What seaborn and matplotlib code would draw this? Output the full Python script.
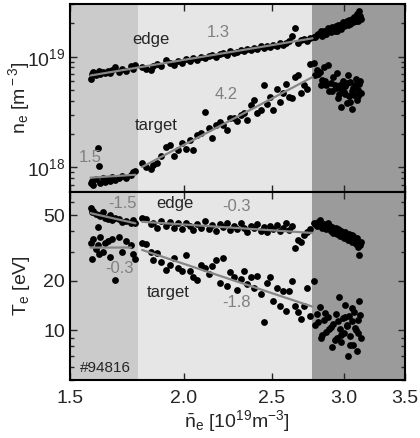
import numpy as np
import matplotlib
matplotlib.use('Agg')
import matplotlib.pyplot as plt
import matplotlib.ticker as mticker
import seaborn as sns

# line averaged density, 10^19 m^-3
nbar = np.array([
    1.58, 1.585, 1.59, 1.60, 1.61, 1.615, 1.62, 1.63, 1.64, 1.65, 1.66, 1.67, 1.68, 1.70, 1.71, 1.73, 1.75, 1.76, 1.77,
    1.80, 1.82, 1.84, 1.85, 1.87, 1.89, 1.91, 1.93, 1.95, 1.97, 1.99, 2.01, 2.03, 2.05, 2.07, 2.09, 2.11, 2.13, 2.15,
    2.17, 2.19, 2.21, 2.23, 2.25, 2.27, 2.29, 2.31, 2.33, 2.35, 2.37, 2.39, 2.41, 2.43, 2.45, 2.47, 2.49, 2.51, 2.53,
    2.55, 2.57, 2.59, 2.61, 2.63, 2.65, 2.67, 2.69, 2.71, 2.73, 2.75,
    2.78, 2.80, 2.82, 2.84, 2.85, 2.87, 2.88, 2.90, 2.91, 2.92, 2.94, 2.95, 2.96, 2.97, 2.98, 2.99, 3.00, 3.01, 3.02,
    3.03, 3.04, 3.05, 3.06, 3.07, 3.08, 3.09, 3.10, 3.11, 3.12, 3.13,
    2.79, 2.81, 2.83, 2.86, 2.89, 2.93, 2.955, 2.975, 3.005, 3.025, 3.045, 3.065, 3.085, 3.105, 3.125])

# edge density, 10^19 m^-3
ne_edge = np.array([
    0.63, 0.70, 0.73, 0.68, 0.72, 0.74, 0.70, 0.73, 0.71, 0.74, 0.72, 0.76, 0.80, 0.73, 0.77, 0.75, 0.82, 0.78, 0.84,
    0.80, 0.78, 0.76, 0.83, 0.86, 0.83, 0.94, 0.88, 0.85, 0.92, 0.87, 0.96, 0.92, 0.98, 0.94, 1.00, 0.97, 1.01, 1.04,
    0.99, 1.06, 1.08, 1.03, 1.12, 1.07, 1.10, 1.14, 1.12, 1.18, 1.15, 1.21, 1.17, 1.24, 1.20, 1.26, 1.22, 1.28, 1.25,
    1.32, 1.27, 1.34, 1.38, 1.55, 1.80, 1.33, 1.42, 1.45, 1.40, 1.48,
    1.50, 1.58, 1.65, 1.55, 1.72, 1.62, 1.80, 1.68, 1.85, 1.75, 1.90, 1.70, 1.82, 1.95, 1.78, 2.05, 1.88, 1.98, 2.10,
    1.92, 2.15, 2.02, 2.20, 2.08, 2.30, 2.12, 2.45, 2.25, 2.60, 2.18,
    1.52, 1.62, 1.70, 1.60, 1.78, 1.72, 1.95, 1.85, 1.96, 2.05, 1.98, 2.12, 2.18, 2.10, 2.35])

# target density, 10^18 m^-3
ne_target = np.array([
    0.72, 0.76, 0.70, 0.78, 1.50, 1.02, 0.73, 0.80, 0.74, 0.79, 0.76, 0.82, 0.77, 0.80, 0.83, 0.81, 0.85, 0.90, 0.93,
    1.09, 1.00, 0.97, 1.05, 1.10, 1.28, 1.52, 1.60, 1.28, 1.43, 1.65, 1.47, 1.76, 1.43, 1.95, 2.04, 3.17, 2.26, 1.83,
    2.41, 2.57, 2.41, 2.20, 2.79, 2.79, 2.60, 2.95, 3.08, 2.70, 3.66, 4.07, 3.08, 3.30, 5.56, 3.75, 4.30, 3.30, 5.10,
    3.90, 4.70, 5.70, 4.30, 4.20, 6.60, 6.90, 4.70, 5.60, 5.10, 8.60,
    8.8, 7.6, 7.3, 6.2, 8.0, 5.5, 8.4, 5.8, 4.9, 6.5, 5.2, 7.2, 4.6, 5.6, 3.5, 6.0, 4.8, 5.4, 3.8,
    6.8, 4.4, 5.9, 3.4, 5.2, 4.5, 6.3, 4.1, 5.0, 5.7, 4.7,
    6.8, 7.0, 5.6, 6.0, 4.9, 5.5, 4.2, 5.1, 4.6, 5.8, 3.9, 4.9, 5.5, 4.4, 6.0])

# edge temperature, eV
te_edge = np.array([
    55.5, 52, 53, 51, 42.5, 50, 49, 52, 48, 47, 50, 46.5, 48, 47.5, 45.5, 46, 45, 46.5, 44.5,
    48, 47, 44, 45, 41.5, 46, 43, 45.5, 42, 44.5, 41, 45, 43, 40.5, 44, 42, 46, 41, 43.5,
    40, 44, 42.5, 45, 40.5, 43, 41, 44.5, 42, 39.5, 43, 41.5, 44, 40, 42.5, 39.5, 43, 41, 43.5,
    40, 42, 44.5, 40.5, 43, 31.6, 35.3, 34.3, 37.9, 39.5, 41,
    45, 43, 46.5, 42, 44, 41, 44.5, 40, 42.5, 39, 41.5, 38.5, 40.5, 37.5, 40, 38, 36.5, 39.5, 37,
    35.5, 38.5, 36, 34.5, 37.5, 35, 33.5, 36.5, 32, 28.7, 34.5,
    44, 45.5, 43, 41.5, 43.5, 39.5, 41, 39, 38.5, 37.5, 36.5, 38, 35.5, 34, 33])

# target temperature, eV
te_target = np.array([
    34, 27, 36, 31, 33, 29, 37, 30, 34, 35, 28, 36, 20.3, 37, 30, 35, 33, 29, 27,
    34, 33.5, 30, 26.8, 29.5, 26, 23.3, 25, 27.5, 24, 22.8, 28.7, 23, 21.2, 20.3, 25, 24, 22, 24.5,
    26.8, 19.5, 27.6, 18.5, 22.5, 21, 17.5, 20.5, 23, 19, 21.2, 18, 21.5, 16.5, 11.2, 19.4, 21.2, 15, 18,
    14, 17.2, 13.1, 17.2, 19.8, 14, 12.9, 11.7, 14, 18, 12.2,
    20, 12.6, 13.8, 9.4, 11.5, 9.8, 12, 10.5, 7.9, 11, 12.5, 9, 15.9, 10.2, 8.5, 11.8, 9.6, 14.3, 10.8,
    7.0, 12.2, 9.2, 11.4, 8.2, 13, 10, 7.5, 11.6, 15, 9.0,
    10.8, 11.2, 9, 12.8, 10.2, 8.8, 11.4, 9.4, 12, 10.6, 8.2, 13.6, 10.4, 9.6, 12.4])

# density regimes (shaded bands)
band_edges = [1.5, 1.78, 2.77, 3.5]
band_colors = ['#cbcbcb', '#e6e6e6', '#9b9b9b']

# power law fit ranges
fit_ne_edge = [(1.58, 2.77)]
fit_ne_target = [(1.58, 1.77), (1.80, 2.77)]
fit_te_edge = [(1.58, 1.77), (1.80, 2.77)]
fit_te_target = [(1.58, 1.75), (1.80, 2.77)]

sns.set_theme(style='ticks')
plt.rcParams['font.family'] = ['Liberation Sans', 'DejaVu Sans']
plt.rcParams['mathtext.fontset'] = 'custom'
plt.rcParams['mathtext.rm'] = 'Liberation Sans'
plt.rcParams['mathtext.it'] = 'Liberation Sans:italic'
plt.rcParams['mathtext.bf'] = 'Liberation Sans:bold'

fig, (ax1, ax2) = plt.subplots(2, 1, figsize=(4.2, 4.38), dpi=100, sharex=True)
fig.subplots_adjust(left=0.1667, right=0.964, top=0.991, bottom=0.1324, hspace=0)


def draw_fits(ax, x, y, ranges):
    for lo, hi in ranges:
        m = (x >= lo) & (x <= hi)
        p = np.polyfit(np.log10(x[m]), np.log10(y[m]), 1)
        xs = np.array([lo, hi])
        ys = 10 ** np.polyval(p, np.log10(xs))
        sns.lineplot(x=xs, y=ys, ax=ax, color='#868686', lw=1.6, zorder=4)


for ax in (ax1, ax2):
    for i in range(3):
        ax.axvspan(band_edges[i], band_edges[i + 1], color=band_colors[i], zorder=0, lw=0)

dots = dict(color='black', s=24, linewidth=0, zorder=3)
sns.scatterplot(x=nbar, y=ne_edge * 1e19, ax=ax1, **dots)
sns.scatterplot(x=nbar, y=ne_target * 1e18, ax=ax1, **dots)
sns.scatterplot(x=nbar, y=te_edge, ax=ax2, **dots)
sns.scatterplot(x=nbar, y=te_target, ax=ax2, **dots)

draw_fits(ax1, nbar, ne_edge * 1e19, fit_ne_edge)
draw_fits(ax1, nbar, ne_target * 1e18, fit_ne_target)
draw_fits(ax2, nbar, te_edge, fit_te_edge)
draw_fits(ax2, nbar, te_target, fit_te_target)

for ax in (ax1, ax2):
    ax.set_xscale('log')
    ax.set_yscale('log')
    ax.set_xlim(1.5, 3.5)
    ax.xaxis.set_major_locator(mticker.FixedLocator([1.5, 2.0, 2.5, 3.0, 3.5]))
    ax.xaxis.set_major_formatter(mticker.FormatStrFormatter('%.1f'))
    ax.xaxis.set_minor_locator(mticker.NullLocator())
    ax.tick_params(which='both', direction='in', top=True, right=True, width=1, labelsize=14)
    ax.tick_params(which='major', length=5)
    ax.tick_params(which='minor', length=3)
    for sp in ax.spines.values():
        sp.set_linewidth(1.5)
        sp.set_color('black')

ax1.set_ylim(6e17, 3e19)
ax1.yaxis.set_major_locator(mticker.FixedLocator([1e18, 1e19]))
ax1.tick_params(labelbottom=False)
ax1.set_ylabel(r'n$_{\rm e}$ [m$^{\rm -3}$]', fontsize=14)

ax2.set_ylim(5, 69)
ax2.yaxis.set_major_locator(mticker.FixedLocator([10, 20, 50]))
ax2.yaxis.set_major_formatter(mticker.FormatStrFormatter('%d'))
ax2.yaxis.set_minor_formatter(mticker.NullFormatter())
ax2.set_ylabel(r'T$_{\rm e}$ [eV]', fontsize=14)
ax2.set_xlabel(r'$\bar{\rm n}_{\rm e}$ [10$^{19}$m$^{-3}$]', fontsize=14, labelpad=1)
ax2.tick_params(axis='x', pad=7)

ax1.yaxis.set_label_coords(-0.115, 0.5)
ax2.yaxis.set_label_coords(-0.115, 0.5)

grey = '#808080'
fs = 12
ax1.text(1.841, 1.43e19, 'edge', fontsize=fs, ha='center', va='center')
ax1.text(2.18, 1.65e19, '1.3', fontsize=fs, color=grey, ha='center', va='center')
ax1.text(1.865, 2.41e18, 'target', fontsize=fs, ha='center', va='center')
ax1.text(2.226, 4.52e18, '4.2', fontsize=fs, color=grey, ha='center', va='center')
ax1.text(1.578, 1.23e18, '1.5', fontsize=fs, color=grey, ha='center', va='center')

ax2.text(1.715, 59, '-1.5', fontsize=fs, color=grey, ha='center', va='center')
ax2.text(1.957, 59, 'edge', fontsize=fs, ha='center', va='center')
ax2.text(2.283, 56.6, '-0.3', fontsize=fs, color=grey, ha='center', va='center')
ax2.text(1.702, 23.6, '-0.3', fontsize=fs, color=grey, ha='center', va='center')
ax2.text(1.922, 16.9, 'target', fontsize=fs, ha='center', va='center')
ax2.text(2.288, 14.8, '-1.8', fontsize=fs, color=grey, ha='center', va='center')
ax2.text(0.03, 0.065, '#94816', fontsize=11, ha='left', va='center', transform=ax2.transAxes)

fig.savefig('out.png', dpi=100)
